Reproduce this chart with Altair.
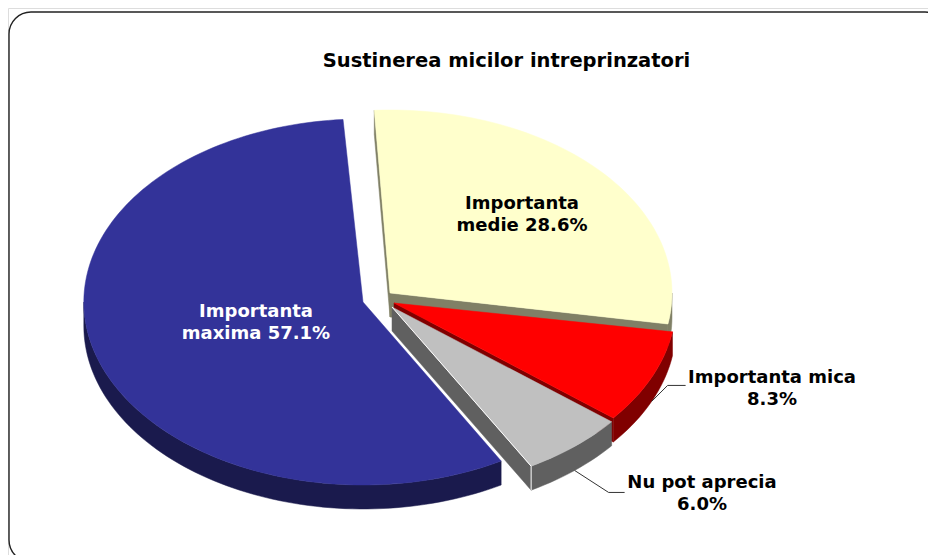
import math
import altair as alt
import pandas as pd

# ---- chart values ----
TITLE = "Sustinerea micilor intreprinzatori"
CATEGORIES = ["Importanta medie", "Importanta mica", "Nu pot aprecia", "Importanta maxima"]
VALUES = [28.6, 8.3, 6.0, 57.1]
LABEL_LINES = [
    ["Importanta", "medie 28.6%"],
    ["Importanta mica", "8.3%"],
    ["Nu pot aprecia", "6.0%"],
    ["Importanta", "maxima 57.1%"],
]
TOP_COLORS = ["#FFFFCC", "#FF0000", "#C0C0C0", "#333399"]
WALL_COLORS = ["#808066", "#800000", "#606060", "#1A1A4D"]
TEXT_COLORS = ["#000000", "#000000", "#000000", "#FFFFFF"]

# ---- projection of the tilted pie (style, in pixels of the page) ----
RX, RY, DEPTH = 282.0, 183.0, 24.0
CX, CY = 382.0, 300.0
START_DEG = -3.2
EXPLODE = [(8, -7), (12, 3), (10, 7), (-19, 2)]
PERSPECTIVE_TURN = [0.0, -0.7, -0.8, -0.9]  # small rotation per slice
PERSPECTIVE_RX = [1.0, 1.0, 1.0, 0.99]
CUT_WALLS = [("start", "end"), ("end",), ("end",), ()]  # cut faces seen from the viewer
W, H = 920, 547
FONT = "DejaVu Sans"


def xy(i, theta, down=0.0):
    """Unit-circle position of angle theta on slice i; scales turn it to an ellipse."""
    ex, ey = EXPLODE[i]
    t = math.radians(theta)
    return ex / RX + PERSPECTIVE_RX[i] * math.sin(t), -(ey + down) / RY + math.cos(t)


def apex(i, down=0.0):
    ex, ey = EXPLODE[i]
    return ex / RX, -(ey + down) / RY


spans = []
acc = START_DEG
for i, v in enumerate(VALUES):
    spans.append((acc + PERSPECTIVE_TURN[i], acc + v * 3.6 + PERSPECTIVE_TURN[i]))
    acc += v * 3.6


rows = []
gid = 0


def poly(points, color):
    global gid
    for k, (x, y) in enumerate(points):
        rows.append({"g": gid, "k": k, "x": x, "y": y, "c": color})
    gid += 1


def arc(a, b):
    n = max(2, int((b - a) / 1.5))
    return [a + (b - a) * j / n for j in range(n + 1)]


for i, (a, b) in enumerate(spans):
    # cut faces seen by the viewer, the front part of the rim, then the top face
    if "start" in CUT_WALLS[i]:
        poly([apex(i), xy(i, a), xy(i, a, DEPTH), apex(i, DEPTH)], WALL_COLORS[i])
    if "end" in CUT_WALLS[i]:
        poly([apex(i), xy(i, b), xy(i, b, DEPTH), apex(i, DEPTH)], WALL_COLORS[i])
    ra, rb = max(a, 90), min(b, 270)
    rim = arc(ra, rb)
    poly([xy(i, t) for t in rim] + [xy(i, t, DEPTH) for t in reversed(rim)], WALL_COLORS[i])
    poly([apex(i)] + [xy(i, t) for t in arc(a, b)], TOP_COLORS[i])

df = pd.DataFrame(rows)

x_scale = alt.Scale(domain=[(8 - CX) / RX, (8 + W - CX) / RX], nice=False, zero=False)
y_scale = alt.Scale(domain=[(CY - 8 - H) / RY, (CY - 8) / RY], nice=False, zero=False)
X = alt.X("x:Q", scale=x_scale, axis=None)
Y = alt.Y("y:Q", scale=y_scale, axis=None)

frame = alt.Chart(alt.Data(values=[{"a": 1}])).mark_rect(
    fill="white", stroke="#222222", strokeWidth=1.4, cornerRadius=22
).encode(x=alt.value(1), x2=alt.value(939), y=alt.value(4), y2=alt.value(554))

shapes = alt.Chart(df).mark_line(
    filled=True, interpolate="linear-closed", strokeWidth=0.5
).encode(
    x=X, y=Y, detail="g:N", order="k:Q",
    fill=alt.Fill("c:N", scale=None, legend=None),
    stroke=alt.Stroke("c:N", scale=None, legend=None),
)

# thin white edge on the grey slice's cut face
gx, gy = apex(2)
edge = pd.DataFrame(
    [
        {"x": gx, "y": gy, "k": 0},
        {"x": xy(2, spans[2][1])[0], "y": xy(2, spans[2][1])[1], "k": 1},
        {"x": xy(2, spans[2][1], DEPTH)[0], "y": xy(2, spans[2][1], DEPTH)[1], "k": 2},
    ]
)
white = alt.Chart(edge).mark_line(color="white", strokeWidth=1).encode(x=X, y=Y, order="k:Q")

# leader lines start on the rim at each slice's middle angle
leaders = []
for i, (dx1, dy1, dx2) in {1: (16, -16, 18), 2: (34, 22, 16)}.items():
    mid = sum(spans[i]) / 2
    sx, sy = xy(i, mid, DEPTH)
    ex, ey = sx + dx1 / RX, sy - dy1 / RY
    leaders += [
        {"g": i, "k": 0, "x": sx, "y": sy},
        {"g": i, "k": 1, "x": ex, "y": ey},
        {"g": i, "k": 2, "x": ex + dx2 / RX, "y": ey},
    ]
leader = alt.Chart(pd.DataFrame(leaders)).mark_line(color="#333333", strokeWidth=1).encode(
    x=X, y=Y, detail="g:N", order="k:Q"
)

# label anchors: offsets (px) from each slice's apex
LABEL_OFFSET = [(132, -89), (378, 75), (310, 176), (-107, 10)]
labels = []
for i, lines in enumerate(LABEL_LINES):
    ax, ay = apex(i)
    ox, oy = LABEL_OFFSET[i]
    labels.append({"x": ax + ox / RX, "y": ay - oy / RY, "t": "\n".join(lines), "c": TEXT_COLORS[i]})
text = alt.Chart(pd.DataFrame(labels)).mark_text(
    font=FONT, fontWeight="bold", fontSize=18, lineBreak="\n", lineHeight=21.5, align="center", baseline="middle"
).encode(x=X, y=Y, text="t:N", color=alt.Color("c:N", scale=None, legend=None))

chart = (
    alt.layer(frame, shapes, white, leader, text)
    .properties(
        width=W,
        height=H,
        padding=0,
        autosize=alt.AutoSizeParams(type="none"),
        title=alt.TitleParams(
            TITLE, font=FONT, fontWeight="bold", fontSize=19.5, color="black",
            anchor="middle", dx=38.5, offset=-82, baseline="bottom",
        ),
    )
    .configure_view(stroke=None)
    .configure(background="white")
)
chart.save("out.html", embed_options={"renderer": "svg", "actions": False})
